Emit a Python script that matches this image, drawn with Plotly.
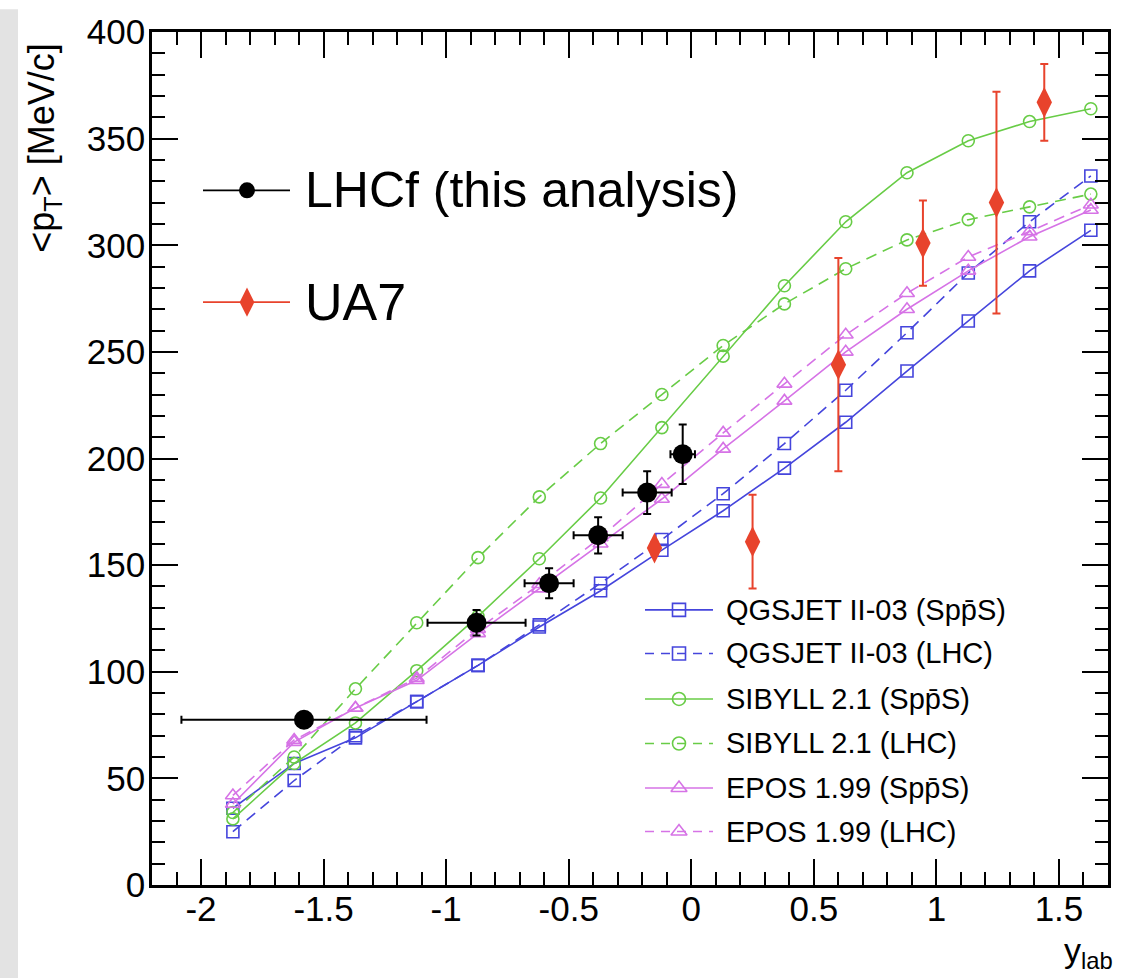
import plotly.graph_objects as go

# Canvas and plot-area geometry (pixels)
W, H = 1123, 979
L, R, T, B = 152, 1108, 23, 885

FONT = "Liberation Sans, Arial, Helvetica, sans-serif"

# ---- data -----------------------------------------------------------------
y_lab_model = [-1.87, -1.62, -1.37, -1.12, -0.87, -0.62, -0.37, -0.12,
               0.13, 0.38, 0.63, 0.88, 1.13, 1.38, 1.63]

qgsjet_sps = [36, 57, 69, 86, 103, 121, 138, 157, 175.5, 195.5, 217, 241, 264.5, 288, 307]
qgsjet_lhc = [25, 49, 70, 86, 103, 122, 141.5, 162, 183.5, 207, 232, 259, 287, 311, 332.5]
sibyll_sps = [31, 57, 76, 100.5, 126, 153, 181.5, 214.5, 248, 281, 311, 334, 349, 358, 364]
sibyll_lhc = [34, 60, 92, 123, 153.5, 182, 207, 230, 253, 272.5, 289, 302.5, 312, 318, 324]
epos_sps = [38, 67, 83, 96, 118, 139, 160, 181, 204.5, 227, 250, 270, 288, 304, 316.5]
epos_lhc = [42, 68, 83, 97, 120, 141, 163, 188, 212, 235, 258, 277.5, 294.5, 306.5, 319]

lhcf_y = [-1.58, -0.876, -0.58, -0.38, -0.18, -0.035]
lhcf_pt = [77.5, 123, 141.5, 164, 184, 202]
lhcf_xerr = [0.5, 0.2, 0.1, 0.1, 0.1, 0.05]
lhcf_pterr = [3, 6, 7, 8.5, 10, 14]

ua7_y = [-0.15, 0.25, 0.60, 0.945, 1.245, 1.44]
ua7_pt = [158, 161, 244, 301, 320, 367]
ua7_pterr = [3, 22, 50, 20, 52, 18]

x_ticks = [-2, -1.5, -1, -0.5, 0, 0.5, 1, 1.5]
x_tick_labels = ["-2", "-1.5", "-1", "-0.5", "0", "0.5", "1", "1.5"]
y_ticks = [0, 50, 100, 150, 200, 250, 300, 350, 400]
y_tick_labels = ["0", "50", "100", "150", "200", "250", "300", "350", "400"]

# ---- styles ---------------------------------------------------------------
BLUE = "#4545dc"
GREEN = "#68cc46"
MAGENTA = "#d673e6"
RED = "#e8432c"

models = [
    ("QGSJET II-03 (Spp\u0304S)", qgsjet_sps, BLUE, "solid", "square-open", 12),
    ("QGSJET II-03 (LHC)", qgsjet_lhc, BLUE, "dash", "square-open", 12),
    ("SIBYLL 2.1 (Spp\u0304S)", sibyll_sps, GREEN, "solid", "circle-open", 12),
    ("SIBYLL 2.1 (LHC)", sibyll_lhc, GREEN, "dash", "circle-open", 12),
    ("EPOS 1.99 (Spp\u0304S)", epos_sps, MAGENTA, "solid", "triangle-up-open", 13),
    ("EPOS 1.99 (LHC)", epos_lhc, MAGENTA, "dash", "triangle-up-open", 13),
]


def to_paper_x(xp):
    return (xp - L) / (R - L)


def to_paper_y(yp):
    return (B - yp) / (B - T)


fig = go.Figure()

for name, vals, col, dash, sym, size in models:
    fig.add_trace(go.Scatter(
        x=y_lab_model, y=vals, mode="lines+markers", name=name,
        line=dict(color=col, width=1.6, dash="11px,7px" if dash == "dash" else "solid"),
        marker=dict(symbol=sym, size=size, color=col, line=dict(width=1.6, color=col)),
        showlegend=False,
    ))

fig.add_trace(go.Scatter(
    x=ua7_y, y=ua7_pt, mode="markers", name="UA7",
    marker=dict(symbol="diamond-tall", size=22, color=RED),
    error_y=dict(type="data", array=ua7_pterr, color=RED, thickness=2, width=4),
    showlegend=False,
))

fig.add_trace(go.Scatter(
    x=lhcf_y, y=lhcf_pt, mode="markers", name="LHCf (this analysis)",
    marker=dict(symbol="circle", size=20, color="black"),
    error_x=dict(type="data", array=lhcf_xerr, color="black", thickness=2, width=4),
    error_y=dict(type="data", array=lhcf_pterr, color="black", thickness=2, width=4),
    showlegend=False,
))

# ---- legend keys, drawn on a paper-aligned overlay axis pair --------------
shapes = []
annotations = []

# left background strip
shapes.append(dict(type="rect", xref="paper", yref="paper",
                   x0=to_paper_x(0), x1=to_paper_x(18), y0=to_paper_y(H), y1=to_paper_y(0),
                   fillcolor="#e3e3e3", line=dict(width=0), layer="below"))

big_keys = [
    ("LHCf (this analysis)", "black", "circle", 16, 183, 50),
    ("UA7", RED, "diamond-tall", 21, 296, 52),
]
for label, col, sym, msize, row_y, fsize in big_keys:
    shapes.append(dict(type="line", xref="paper", yref="paper",
                       x0=to_paper_x(203), x1=to_paper_x(290),
                       y0=to_paper_y(row_y), y1=to_paper_y(row_y),
                       line=dict(color=col, width=1.6)))
    fig.add_trace(go.Scatter(
        x=[to_paper_x(247)], y=[to_paper_y(row_y)], xaxis="x2", yaxis="y2",
        mode="markers", marker=dict(symbol=sym, size=msize, color=col),
        showlegend=False, hoverinfo="skip"))
    annotations.append(dict(xref="paper", yref="paper", x=to_paper_x(303), y=to_paper_y(row_y),
                            xanchor="left", yanchor="middle", showarrow=False,
                            text=label, font=dict(family=FONT, size=fsize, color="black")))

row_ys = [607, 651, 697, 742, 787, 831]
for (name, vals, col, dash, sym, size), row_y in zip(models, row_ys):
    shapes.append(dict(type="line", xref="paper", yref="paper",
                       x0=to_paper_x(645), x1=to_paper_x(713),
                       y0=to_paper_y(row_y), y1=to_paper_y(row_y),
                       line=dict(color=col, width=1.6, dash="9px,7px" if dash == "dash" else "solid")))
    fig.add_trace(go.Scatter(
        x=[to_paper_x(679)], y=[to_paper_y(row_y)], xaxis="x2", yaxis="y2",
        mode="markers",
        marker=dict(symbol=sym, size=size + 1, color=col, line=dict(width=1.6, color=col)),
        showlegend=False, hoverinfo="skip"))
    annotations.append(dict(xref="paper", yref="paper", x=to_paper_x(724), y=to_paper_y(row_y),
                            xanchor="left", yanchor="middle", showarrow=False,
                            text=name, font=dict(family=FONT, size=29, color="black")))

# axis titles
annotations.append(dict(xref="paper", yref="paper", x=to_paper_x(44), y=to_paper_y(140),
                        xanchor="center", yanchor="middle", showarrow=False, textangle=-90,
                        text="&lt;p<sub>T</sub>&gt; [MeV/c]",
                        font=dict(family=FONT, size=36, color="black")))
annotations.append(dict(xref="paper", yref="paper", x=to_paper_x(1114), y=to_paper_y(930),
                        xanchor="right", yanchor="top", showarrow=False, borderpad=0,
                        text="y<sub>lab</sub>",
                        font=dict(family=FONT, size=34, color="black")))

axis_common = dict(
    showline=True, linecolor="black", linewidth=2.5, mirror="ticks",
    ticks="inside", ticklen=26, tickwidth=2, tickcolor="black",
    showgrid=False, zeroline=False,
    tickfont=dict(family=FONT, size=35, color="black"),
)

fig.update_layout(
    width=W, height=H,
    margin=dict(l=L, r=W - R, t=T, b=H - B, pad=0),
    paper_bgcolor="white", plot_bgcolor="white",
    showlegend=False,
    xaxis=dict(range=[-2.2, 1.7], tickmode="array", tickvals=x_ticks, ticktext=x_tick_labels,
               minor=dict(tickmode="linear", tick0=-2, dtick=0.1, ticks="inside",
                          ticklen=13, tickwidth=1.5, tickcolor="black"),
               ticklabelstandoff=-9, **axis_common),
    yaxis=dict(range=[0, 400], tickmode="array", tickvals=y_ticks, ticktext=y_tick_labels,
               minor=dict(tickmode="linear", tick0=0, dtick=10, ticks="inside",
                          ticklen=13, tickwidth=1.5, tickcolor="black"),
               ticklabelstandoff=-3, **axis_common),
    xaxis2=dict(range=[0, 1], overlaying="x", visible=False, fixedrange=True),
    yaxis2=dict(range=[0, 1], overlaying="y", visible=False, fixedrange=True),
    shapes=shapes,
    annotations=annotations,
)

fig.write_html("out.html")
